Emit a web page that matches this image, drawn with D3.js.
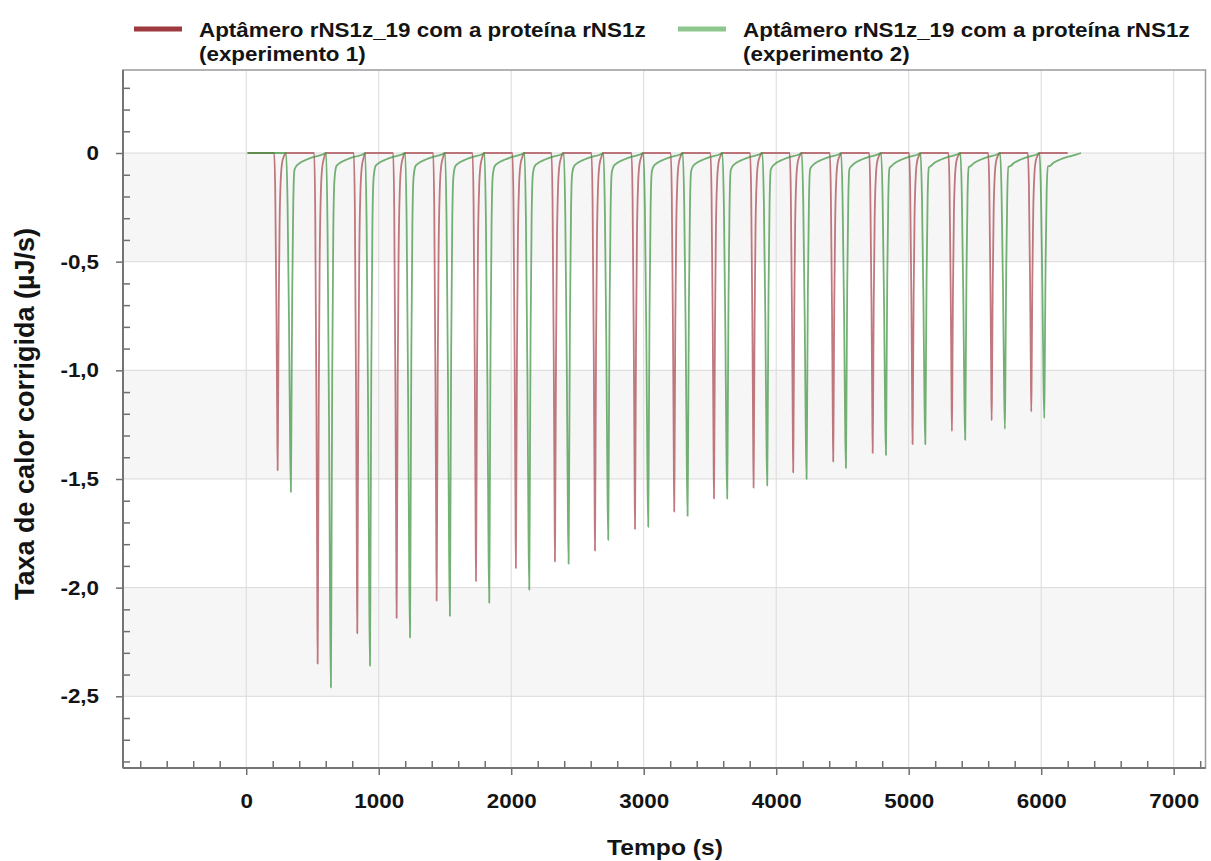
<!DOCTYPE html>
<html>
<head>
<meta charset="utf-8">
<script src="https://cdn.jsdelivr.net/npm/d3@7"></script>
<style>
  body { margin: 0; background: #fff; }
  svg text { font-family: "Liberation Sans", Arial, Helvetica, sans-serif; font-weight: bold; fill: #141414; }
</style>
</head>
<body>
<svg id="chart" width="1211" height="861"></svg>
<script>
// ---- Data -------------------------------------------------------------
const seriesLabels = [
  ["Aptâmero rNS1z_19 com a proteína rNS1z", "(experimento 1)"],
  ["Aptâmero rNS1z_19 com a proteína rNS1z", "(experimento 2)"]
];

// Experiment 1: time (s) of each injection peak minimum and its value (µJ/s)
const exp1PeakTimes  = [237, 539, 838, 1135, 1437, 1734, 2035, 2330, 2632, 2934,
                        3230, 3530, 3829, 4128, 4430, 4728, 5029, 5326, 5626, 5925];
const exp1PeakValues = [-1.46, -2.35, -2.21, -2.14, -2.06, -1.97, -1.91, -1.88, -1.83, -1.73,
                        -1.65, -1.59, -1.54, -1.47, -1.42, -1.38, -1.34, -1.28, -1.23, -1.19];

// Experiment 2
const exp2PeakTimes  = [337, 639, 934, 1236, 1537, 1834, 2136, 2433, 2732, 3034,
                        3331, 3630, 3932, 4229, 4526, 4828, 5125, 5426, 5726, 6023];
const exp2PeakValues = [-1.56, -2.46, -2.36, -2.23, -2.13, -2.07, -2.01, -1.89, -1.78, -1.72,
                        -1.67, -1.59, -1.53, -1.50, -1.45, -1.39, -1.34, -1.32, -1.27, -1.22];

// Recorded start / end of each run (s)
const exp1Span = [10, 6200];
const exp2Span = [10, 6300];

// Injection peak profile: seconds relative to the minimum, share of the peak depth
const exp1ProfileT = [-26, -18, -9, -3, 0, 3, 8, 15, 24, 34, 48, 65];
const exp1ProfileF = [0, 0.12, 0.5, 0.85, 1, 0.85, 0.5, 0.22, 0.08, 0.03, 0.01, 0];
const exp2ProfileT = [-36, -25, -14, -6, 0, 4, 10, 18, 27];
const exp2ProfileF = [0, 0.15, 0.5, 0.85, 1, 0.8, 0.42, 0.15, 0.05];
// Slow return to baseline after each experiment-2 peak (s after minimum, µJ/s)
const exp2TailT = [42, 70, 120, 180, 240];
const exp2TailV = [-0.06, -0.045, -0.03, -0.017, -0.007];

// Axes
const xMajorTicks = [0, 1000, 2000, 3000, 4000, 5000, 6000, 7000];
const xMinorTicks = [-800, -600, -400, -200, 200, 400, 600, 800, 1200, 1400, 1600, 1800,
  2200, 2400, 2600, 2800, 3200, 3400, 3600, 3800, 4200, 4400, 4600, 4800,
  5200, 5400, 5600, 5800, 6200, 6400, 6600, 6800, 7200];
const yMajorTicks = [0, -0.5, -1.0, -1.5, -2.0, -2.5];
const yTickLabels = ["0", "-0,5", "-1,0", "-1,5", "-2,0", "-2,5"];
const yMinorTicks = [0.3, 0.2, 0.1, -0.1, -0.2, -0.3, -0.4, -0.6, -0.7, -0.8, -0.9,
  -1.1, -1.2, -1.3, -1.4, -1.6, -1.7, -1.8, -1.9, -2.1, -2.2, -2.3, -2.4, -2.6, -2.7, -2.8];
const yBands = [[0, -0.5], [-1.0, -1.5], [-2.0, -2.5]];

const xTitle = "Tempo (s)";
const yTitle = "Taxa de calor corrigida (µJ/s)";

// ---- Build the traces ----------------------------------------------------
function buildTrace(times, values, span, profT, profF, tailT, tailV) {
  const pts = [[span[0], 0]];
  times.forEach((t0, i) => {
    profT.forEach((dt, k) => pts.push([t0 + dt, values[i] * profF[k]]));
    if (tailT) tailT.forEach((dt, k) => pts.push([t0 + dt, tailV[k]]));
  });
  pts.push([span[1], 0]);
  return pts;
}
const exp1Trace = buildTrace(exp1PeakTimes, exp1PeakValues, exp1Span, exp1ProfileT, exp1ProfileF);
const exp2Trace = buildTrace(exp2PeakTimes, exp2PeakValues, exp2Span, exp2ProfileT, exp2ProfileF, exp2TailT, exp2TailV);

// ---- Layout --------------------------------------------------------------
const svg = d3.select("#chart");
const plot = { left: 123, top: 70, right: 1205.5, bottom: 768 };
const textStretch = 1.12;   // typeface is set slightly wide

const x = d3.scaleLinear().domain([-930, 7240]).range([plot.left, plot.right]);
const y = d3.scaleLinear().domain([-2.83, 0.382]).range([plot.bottom, plot.top]);

// widen a text element horizontally around its own anchor point
function stretch(sel) {
  sel.attr("transform", function () {
    const ax = +(this.getAttribute("x") || 0);
    return `translate(${ax},0) scale(${textStretch},1) translate(${-ax},0)`;
  });
}

// background bands
svg.append("g").selectAll("rect").data(yBands).join("rect")
  .attr("x", plot.left).attr("width", plot.right - plot.left)
  .attr("y", d => y(d[0])).attr("height", d => y(d[1]) - y(d[0]))
  .attr("fill", "#f6f6f6");

// grid
const grid = svg.append("g").attr("stroke", "#dadada").attr("stroke-width", 1);
grid.selectAll(".gx").data(xMajorTicks).join("line")
  .attr("x1", d => x(d)).attr("x2", d => x(d))
  .attr("y1", plot.top).attr("y2", plot.bottom);
grid.selectAll(".gy").data(yMajorTicks).join("line")
  .attr("y1", d => y(d)).attr("y2", d => y(d))
  .attr("x1", plot.left).attr("x2", plot.right);

// traces
const line = d3.line().x(d => x(d[0])).y(d => y(d[1])).curve(d3.curveMonotoneX);
const traces = [
  { data: exp1Trace, color: "#a8454d" },
  { data: exp2Trace, color: "#3f9340" }
];
svg.append("g").selectAll("path").data(traces).join("path")
  .attr("d", d => line(d.data))
  .attr("fill", "none")
  .attr("stroke", d => d.color)
  .attr("stroke-width", 1.8)
  .attr("stroke-opacity", 0.72)
  .attr("stroke-linejoin", "round");

// frame
svg.append("rect")
  .attr("x", plot.left).attr("y", plot.top)
  .attr("width", plot.right - plot.left).attr("height", plot.bottom - plot.top)
  .attr("fill", "none").attr("stroke", "#9a9a9a").attr("stroke-width", 1.5);

// axes
function styleAxis(g) {
  g.select(".domain").remove();
  g.selectAll(".tick line").attr("stroke", "#6f6f6f").attr("stroke-width", 1.5);
}
svg.append("g").attr("transform", `translate(${plot.left},0)`)
  .call(d3.axisLeft(y).tickValues(yMajorTicks).tickSize(7).tickPadding(17)
    .tickFormat((d, i) => yTickLabels[i]))
  .call(styleAxis)
  .call(g => g.selectAll("text").attr("font-size", 20).attr("fill", "#141414").call(stretch));
svg.append("g").attr("transform", `translate(${plot.left},0)`)
  .call(d3.axisLeft(y).tickValues(yMinorTicks).tickSize(-7).tickFormat(""))
  .call(styleAxis);
svg.append("g").attr("transform", `translate(0,${plot.bottom})`)
  .call(d3.axisBottom(x).tickValues(xMajorTicks).tickSize(7).tickPadding(19)
    .tickFormat(d3.format("d")))
  .call(styleAxis)
  .call(g => g.selectAll("text").attr("font-size", 20).attr("fill", "#141414").call(stretch));
svg.append("g").attr("transform", `translate(0,${plot.bottom})`)
  .call(d3.axisBottom(x).tickValues(xMinorTicks).tickSize(-7).tickFormat(""))
  .call(styleAxis);

// left and bottom axis lines
svg.append("line").attr("x1", plot.left).attr("x2", plot.left)
  .attr("y1", plot.top).attr("y2", plot.bottom).attr("stroke", "#747474").attr("stroke-width", 2);
svg.append("line").attr("x1", plot.left).attr("x2", plot.right)
  .attr("y1", plot.bottom).attr("y2", plot.bottom).attr("stroke", "#747474").attr("stroke-width", 2);

// axis titles
svg.append("text").attr("x", 665).attr("y", 855)
  .attr("text-anchor", "middle").attr("font-size", 22).text(xTitle).call(stretch);
svg.append("text").attr("transform", "translate(34,414) rotate(-90)")
  .attr("text-anchor", "middle").attr("font-size", 27).text(yTitle);

// legend
const legend = [
  { x: 134, color: "#9c3a3e", lines: seriesLabels[0] },
  { x: 678, color: "#8ec78e", lines: seriesLabels[1] }
];
const lg = svg.append("g").selectAll("g").data(legend).join("g")
  .attr("transform", d => `translate(${d.x},0)`);
lg.append("line").attr("x1", 0).attr("x2", 48).attr("y1", 29).attr("y2", 29)
  .attr("stroke", d => d.color).attr("stroke-width", 5);
lg.append("text").attr("x", 65).attr("y", 37).attr("font-size", 20).text(d => d.lines[0]).call(stretch);
lg.append("text").attr("x", 65).attr("y", 61).attr("font-size", 20).text(d => d.lines[1]).call(stretch);
</script>
</body>
</html>
